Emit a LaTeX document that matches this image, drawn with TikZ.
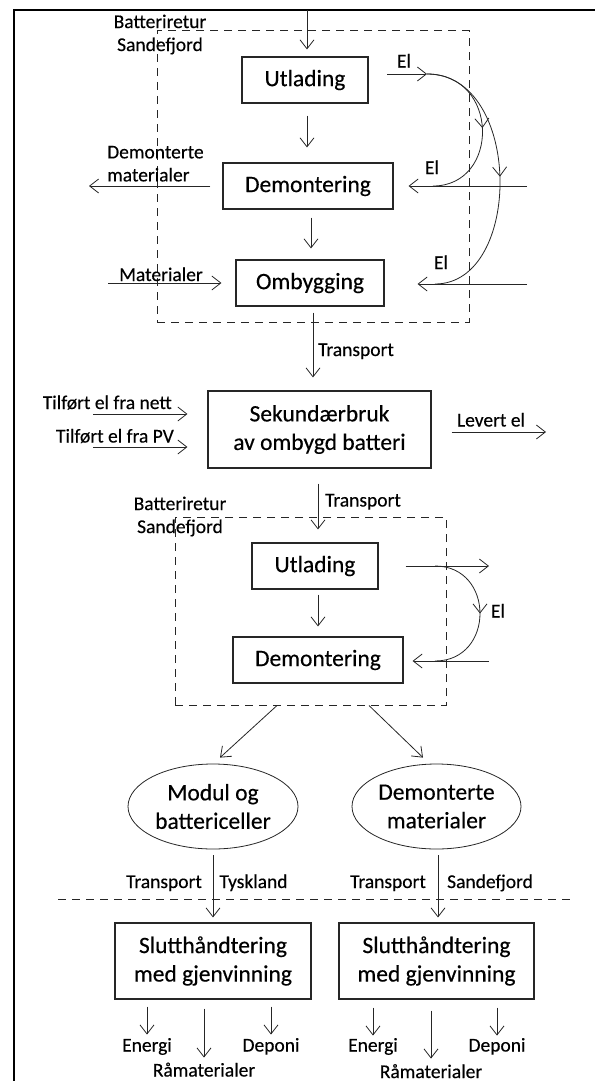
\documentclass[tikz,border=0pt]{standalone}
\usepackage{fontspec}
\setmainfont{Carlito}[FakeBold=0.35]
\usetikzlibrary{arrows.meta,shapes.geometric,decorations.markings}
\begin{document}
\begin{tikzpicture}[x=1pt,y=-1pt,
  >={Straight Barb[length=9pt,width=14pt]},
  conn/.style={->,line width=0.8pt,draw=black!85},
  curv/.style={line width=0.8pt,draw=black!85,
    decoration={markings,mark=at position 0.5 with {\arrow{Straight Barb[length=9pt,width=14pt]}}},
    postaction={decorate}},
  proc/.style={draw=black!85,line width=1.1pt,inner sep=0pt,align=center,
    font=\fontsize{23.5}{28.5}\selectfont},
  oval/.style={proc,ellipse,line width=0.8pt},
  lbl/.style={inner sep=0pt,font=\fontsize{19.5}{23}\selectfont,text height=13pt,text depth=4pt},
  mlbl/.style={inner sep=0pt,font=\fontsize{19.5}{23}\selectfont},
  grp/.style={draw=black!85,line width=1pt,dash pattern=on 8pt off 6pt,inner sep=0pt},
  frame/.style={line width=2pt,draw=black}
]
\useasboundingbox (0,0) rectangle (595,1081);
% frame
\coordinate (fr1) at (14,1081);
\coordinate (fr2) at (14,10);
\coordinate (fr3) at (595,10);
\draw[frame] (fr1) -- (fr2) -- (fr3);

% ---------- top group ----------
\node[grp,minimum width=312pt,minimum height=291pt] (g1) at (313,176.5) {};
\node[proc,minimum width=126pt,minimum height=46pt] (u1) at (305,80) {Utlading};
\node[proc,minimum width=170pt,minimum height=46pt] (d1) at (308,186) {Demontering};
\node[proc,minimum width=148pt,minimum height=46pt] (o1) at (310,283) {Ombygging};
\node[mlbl,align=center] (br1) at (160,34.5) {Batteriretur\\Sandefjord};

\coordinate (topin) at (307,10);
\draw[conn,shorten >=7pt] (topin) -- (topin |- u1.north);
\draw[conn,shorten <=12pt,shorten >=15pt] ([xshift=2pt]u1.south) -- ([xshift=2pt]u1.south |- d1.north);
\draw[conn,shorten <=8pt,shorten >=11pt] ([xshift=3pt]d1.south) -- ([xshift=3pt]d1.south |- o1.north);

% demonterte materialer out
\coordinate (dmout) at (89,186);
\draw[conn,shorten <=12pt] (d1.west) -- (dmout);
\node[mlbl,align=left,anchor=west] (dmlbl) at (107,163.7) {Demonterte\\materialer};

% materialer in
\coordinate (matin) at (108,283);
\draw[conn,shorten >=14pt] (matin) -- (o1.west);
\node[lbl] (matlbl) at (161,276.5) {Materialer};

% El
\coordinate (elA) at (387,74);
\coordinate (elB) at (427,74);
\draw[conn] (elA) -- (elB);
\node[lbl] (el1) at (404,63) {El};
\coordinate (c1e) at (433,186);
\coordinate (c2e) at (435,284);
\draw[curv] (elB) .. controls (500,74) and (500,186) .. (c1e);
\draw[curv] (elB) .. controls (523,74) and (523,284) .. (c2e);
\coordinate (elD) at (527,186);
\draw[conn,shorten >=15pt] (elD) -- (d1.east);
\node[lbl] (el2) at (432,169.5) {El};
\coordinate (elE) at (527,284);
\draw[conn,shorten >=33pt] (elE) -- (elE -| o1.east);
\node[lbl] (el3) at (441,264.5) {El};

% ---------- middle ----------
\node[proc,minimum width=223pt,minimum height=77pt] (sek) at (319.5,429.5) {Sekundærbruk\\av ombygd batteri};
\draw[conn,shorten <=6pt,shorten >=13pt] ([xshift=3pt]o1.south) -- ([xshift=3pt]o1.south |- sek.north);
\node[lbl] (tr1) at (356,351.5) {Transport};

\coordinate (tn) at (93,414);
\coordinate (tp) at (93,447);
\draw[conn,shorten >=20pt] (tn) -- (tn -| sek.west);
\draw[conn,shorten >=20pt] (tp) -- (tp -| sek.west);
\node[lbl,anchor=east] (tnl) at (172,404.5) {Tilført el fra nett};
\node[lbl,anchor=east] (tpl) at (174,438) {Tilført el fra PV};

\coordinate (lev) at (546,432);
\draw[conn,shorten <=20pt] (lev -| sek.east) -- (lev);
\node[lbl] (levl) at (491,422) {Levert el};

% ---------- second group ----------
\node[grp,minimum width=271pt,minimum height=188pt] (g2) at (310.5,611) {};
\node[proc,minimum width=126pt,minimum height=46pt] (u2) at (315,566) {Utlading};
\node[proc,minimum width=170pt,minimum height=46pt] (d2) at (318,660) {Demontering};
\node[mlbl,align=center] (br2) at (180,516.5) {Batteriretur\\Sandefjord};

\draw[conn,shorten <=15pt,shorten >=13pt] ([xshift=-1.5pt]sek.south) -- ([xshift=-1.5pt]sek.south |- u2.north);
\node[lbl] (tr2) at (363,502) {Transport};
\draw[conn,shorten <=5pt,shorten >=10pt] (d2.north |- u2.south) -- (d2.north);

\coordinate (el2o) at (489,566);
\draw[conn,shorten <=27pt] (u2.east) -- (el2o);
\coordinate (c3s) at (435,566);
\coordinate (c3e) at (435,661);
\draw[curv] (c3s) .. controls (495,566) and (495,661) .. (c3e);
\coordinate (el2i) at (489,661);
\draw[conn,shorten >=9pt] (el2i) -- (el2i -| d2.east);
\node[lbl] (el4) at (498,613) {El};

% ---------- bottom ----------
\node[oval,minimum width=170pt,minimum height=85pt] (e1) at (213,806.5) {Modul og\\battericeller};
\node[oval,minimum width=169pt,minimum height=85pt] (e2) at (436.5,806.5) {Demonterte\\materialer};
\draw[conn] ([xshift=-33.5pt]g2.south) -- ([xshift=7pt,yshift=6pt]e1.north);
\draw[conn] ([xshift=58.5pt]g2.south) -- ([xshift=-13.5pt,yshift=6pt]e2.north);

\node[proc,minimum width=196pt,minimum height=76pt] (s1) at (213,961) {Slutthåndtering\\med gjenvinning};
\node[proc,minimum width=195pt,minimum height=76pt] (s2) at (436.5,961) {Slutthåndtering\\med gjenvinning};

\draw[conn,shorten <=6pt,shorten >=5pt] (e1.south) -- (e1.south |- s1.north);
\draw[conn,shorten <=6pt,shorten >=5pt] ([xshift=1.5pt]e2.south) -- ([xshift=1.5pt]e2.south |- s2.north);
\node[lbl] (tr3) at (164,883.5) {Transport};
\node[lbl] (tysk) at (253.5,883.5) {Tyskland};
\node[lbl] (tr4) at (388,883.5) {Transport};
\node[lbl] (sand) at (490,883.5) {Sandefjord};

\coordinate (dl1) at (58,899);
\coordinate (dl2) at (572,899);
\draw[line width=0.8pt,draw=black!85,dash pattern=on 8pt off 6pt] (dl1) -- (dl2);

% outputs
\node[lbl] (en1) at (147,1047) {Energi};
\node[lbl] (ra1) at (204,1072) {Råmaterialer};
\node[lbl] (de1) at (271,1047) {Deponi};
\node[lbl] (en2) at (373,1047) {Energi};
\node[lbl] (ra2) at (431,1073.5) {Råmaterialer};
\node[lbl] (de2) at (497,1047) {Deponi};

\draw[conn] ([yshift=-7pt]s1.south -| en1) -- ++(0,28);
\draw[conn] ([yshift=-9pt]s1.south -| ra1) -- ++(0,49);
\draw[conn] ([yshift=-7pt]s1.south -| de1) -- ++(0,28);
\draw[conn] ([yshift=-8pt]s2.south -| en2) -- ++(0,28);
\draw[conn] ([yshift=-11pt]s2.south -| ra2) -- ++(0,48);
\draw[conn] ([yshift=-8pt]s2.south -| de2) -- ++(0,28);
\end{tikzpicture}
\end{document}
